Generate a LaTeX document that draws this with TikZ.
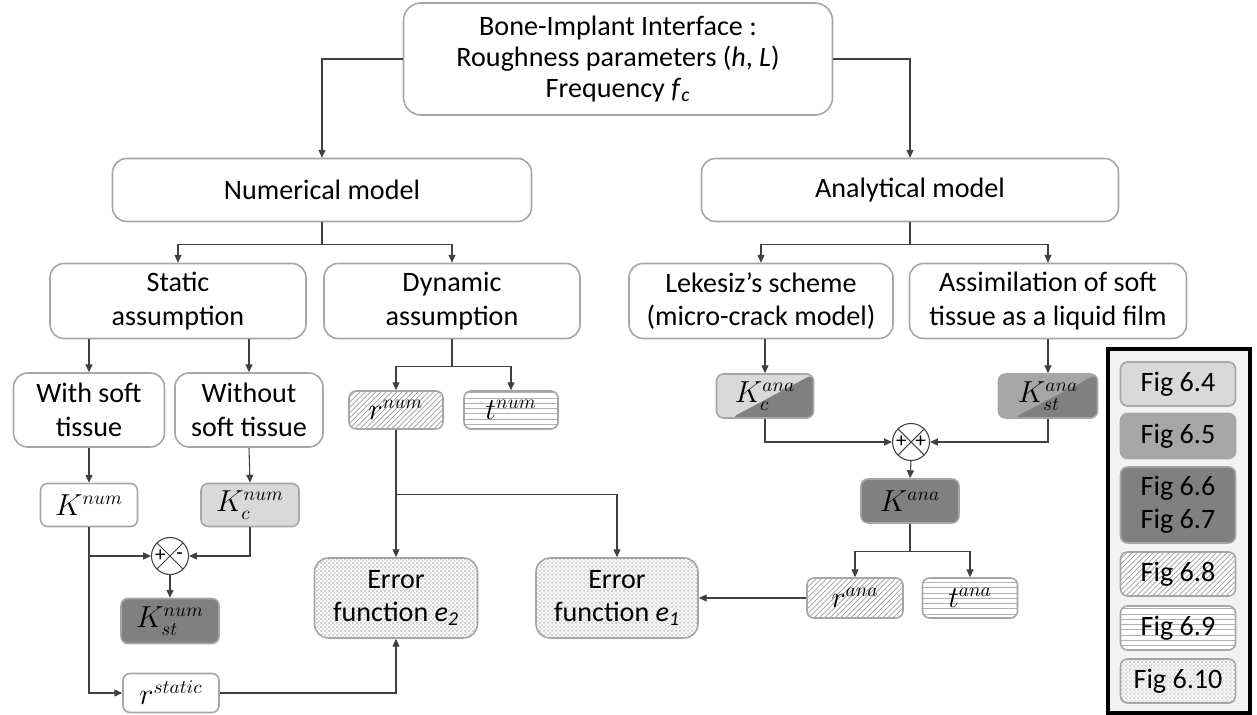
\documentclass[tikz,border=0pt]{standalone}
\usepackage{fontspec}
\setmainfont{Carlito}
\usepackage{tikz}
\usetikzlibrary{arrows.meta, patterns, calc, positioning}
\usepackage{xcolor}
\definecolor{bordergray}{HTML}{A6A6A6}
\definecolor{linegray}{HTML}{404040}
\definecolor{flight}{HTML}{D9D9D9}
\definecolor{fmid}{HTML}{A6A6A6}
\definecolor{fdark}{HTML}{808080}
\definecolor{legbg}{HTML}{F2F2F2}

% small checker pattern for the error functions
\pgfdeclarepatternformonly{fine checker}{\pgfpointorigin}{\pgfpoint{2.4pt}{2.4pt}}{\pgfpoint{2.4pt}{2.4pt}}{%
    \pgfpathrectangle{\pgfpointorigin}{\pgfpoint{1.2pt}{1.2pt}}%
    \pgfpathrectangle{\pgfpoint{1.2pt}{1.2pt}}{\pgfpoint{1.2pt}{1.2pt}}%
    \pgfusepath{fill}}

\tikzset{
box/.style 2 args = {%
    draw=bordergray, line width=0.9pt, rounded corners=8pt,
    align=center, inner sep=0pt, fill=white,
    font=\fontsize{16}{19}\selectfont,
    minimum width=#1*0.02cm, minimum height=#2*0.02cm},
mbox/.style 2 args = {%
    box={#1}{#2}, rounded corners=4pt,
    font=\fontsize{16}{19}\selectfont},
hatch/.style = {pattern=north east lines, pattern color=gray!75, preaction={fill=white}},
hlines/.style = {pattern=horizontal lines, pattern color=gray!60, preaction={fill=white}},
checker/.style = {pattern=fine checker, pattern color=gray!35, preaction={fill=white}},
split/.style 2 args = {%
    fill=#1,
    path picture={\fill[#2]
        ($(path picture bounding box.south west)!0.15!(path picture bounding box.south east)$)
        -- (path picture bounding box.north east)
        -- (path picture bounding box.south east) -- cycle;}},
sum/.style = {%
    circle, draw=linegray, fill=white, line width=0.6pt,
    minimum size=37*0.02cm, inner sep=0pt,
    path picture={\draw[linegray, line width=0.6pt]
        (path picture bounding box.north west) -- (path picture bounding box.south east)
        (path picture bounding box.north east) -- (path picture bounding box.south west);}},
sign/.style = {font=\fontsize{12}{12}\selectfont, inner sep=0pt},
line/.style = {draw=linegray, line width=0.6pt},
arr/.style = {line, -{Triangle[length=4.5pt,width=4pt]}}
}

\begin{document}
\begin{tikzpicture}[x=0.02cm, y=-0.02cm]
    \useasboundingbox (0,0) rectangle (1257,715);

    % Top of the tree
    \node[box={429}{112}, rounded corners=10pt, font=\fontsize{16}{17.5}\selectfont] at (618,59) (top)
        {Bone-Implant Interface :\\Roughness parameters (\textit{h}, \textit{L})\\Frequency \textit{f}\textsubscript{\textit{c}}};
    \node[box={419}{63}] at (322,190) (num) {Numerical model};
    \node[box={417}{63}] at (910,190) (ana) {Analytical model};

    % Assumptions and schemes
    \node[box={256}{75}] at (178,301) (stat)   {Static\\assumption};
    \node[box={256}{75}] at (452,301) (dyn)    {Dynamic\\assumption};
    \node[box={264}{75}] at (761,301) (lek)    {Lekesiz’s scheme\\(micro-crack model)};
    \node[box={277}{75}] at (1048,301) (assim) {Assimilation of soft\\tissue as a liquid film};

    % Static branch
    \node[box={151}{74}] at (89,410)  (withst)    {With soft\\tissue};
    \node[box={148}{74}] at (249,410) (withoutst) {Without\\soft tissue};
    \node[mbox={97}{43}] at (89,505)  (knum)  {$K^{num}$};
    \node[mbox={98}{43}, fill=flight] at (250,505) (kcnum) {$K_c^{num}$};
    \node[sum] at (170,556) (sumn) {};
    \node[sign] at ([xshift=-5.5pt]sumn.center) (sumnp) {+};
    \node[sign] at ([xshift=5.5pt]sumn.center)  (sumnm) {-};
    \node[mbox={98}{45}, fill=fdark] at (170,621) (kstnum) {$K_{st}^{num}$};
    \node[mbox={96}{39}] at (171,693) (rstat) {$r^{static}$};

    % Dynamic branch
    \node[mbox={94}{38}, hatch]  at (396,410) (rnum) {$r^{num}$};
    \node[mbox={94}{38}, hlines] at (511,410) (tnum) {$t^{num}$};
    \node[box={163}{80}, checker] at (396,598) (etwo) {Error\\function \textit{e}\textsubscript{\textit{2}}};
    \node[box={162}{80}, checker] at (617,598) (eone) {Error\\function \textit{e}\textsubscript{\textit{1}}};

    % Analytical branch
    \node[mbox={97}{44}, split={flight}{fdark}] at (765,396)  (kcana)  {$K_c^{ana}$};
    \node[mbox={99}{44}, split={fmid}{fdark}]   at (1048,396) (kstana) {$K_{st}^{ana}$};
    \node[sum] at (911,442) (suma) {};
    \node[sign] at ([xshift=-5.5pt]suma.center) (sumap) {+};
    \node[sign] at ([xshift=5.5pt]suma.center)  (sumaq) {+};
    \node[mbox={98}{44}, fill=fdark] at (910,501) (kana) {$K^{ana}$};
    \node[mbox={96}{40}, hatch]  at (855,598) (rana) {$r^{ana}$};
    \node[mbox={95}{40}, hlines] at (970,598) (tana) {$t^{ana}$};

    % Legend
    \node[draw=black, line width=0.08cm, fill=legbg, inner sep=0pt,
          minimum width=142*0.02cm, minimum height=364*0.02cm] at (1179,531) (legend) {};
    \node[mbox={115}{44}, fill=flight] at (1178,384) (fa) {Fig 6.4};
    \node[mbox={115}{45}, fill=fmid]   at (1178,436) (fb) {Fig 6.5};
    \node[mbox={115}{76}, fill=fdark]  at (1178,505) (fc) {Fig 6.6\\Fig 6.7};
    \node[mbox={115}{44}, hatch]   at (1178,574) (fd) {Fig 6.8};
    \node[mbox={115}{44}, hlines]  at (1178,628) (fe) {Fig 6.9};
    \node[mbox={115}{44}, checker] at (1178,681) (ff) {Fig 6.10};

    % Forks
    \path (num.south)  ++(0,22) coordinate (numfork);
    \path (ana.south)  ++(0,22) coordinate (anafork);
    \path (dyn.south)  ++(0,27) coordinate (dynfork);
    \path (rnum.south) ++(0,65) coordinate (rfork);
    \path (kana.south) ++(0,28) coordinate (kfork);

    % Connectors
    \draw[arr] (top.west) -| (num.north);
    \draw[arr] (top.east) -| (ana.north);

    \draw[line] (num.south) -- (numfork);
    \draw[arr] (numfork) -| (stat.north);
    \draw[arr] (numfork) -| (dyn.north);
    \draw[line] (ana.south) -- (anafork);
    \draw[arr] (anafork) -| (lek.north);
    \draw[arr] (anafork) -| (assim.north);

    \draw[arr] (withst.north |- stat.south) -- (withst.north);
    \draw[arr] (withoutst.north |- stat.south) -- (withoutst.north);
    \draw[arr] (withst.south) -- (knum.north);
    \draw[arr] (withoutst.south) -- (kcnum.north);
    \draw[arr] (knum.south) |- (sumn.west);
    \draw[arr] (knum.south) |- (rstat.west);
    \draw[arr] (kcnum.south) |- (sumn.east);
    \draw[arr] (sumn.south) -- (kstnum.north);
    \draw[arr] (rstat.east) -| (etwo.south);

    \draw[line] (dyn.south) -- (dynfork);
    \draw[arr] (dynfork) -| (rnum.north);
    \draw[arr] (dynfork) -| (tnum.north);
    \draw[arr] (rnum.south) -- (etwo.north);
    \draw[arr] (rfork) -| (eone.north);

    \draw[arr] (kcana.north |- lek.south) -- (kcana.north);
    \draw[arr] (assim.south) -- (kstana.north);
    \draw[arr] (kcana.south) |- (suma.west);
    \draw[arr] (kstana.south) |- (suma.east);
    \draw[arr] (suma.south) -- (kana.north);
    \draw[line] (kana.south) -- (kfork);
    \draw[arr] (kfork) -| (rana.north);
    \draw[arr] (kfork) -| (tana.north);
    \draw[arr] (rana.west) -- (eone.east);

\end{tikzpicture}
\end{document}
